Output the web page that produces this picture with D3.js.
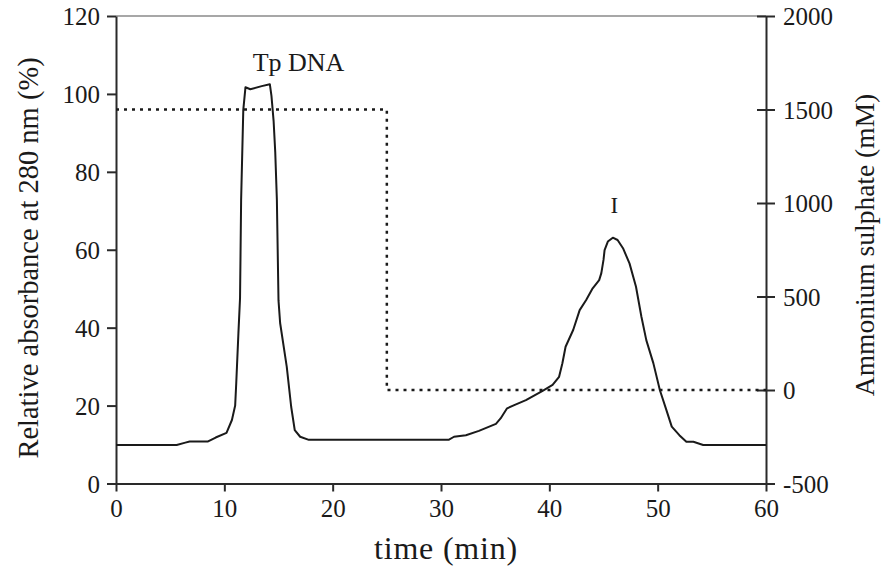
<!DOCTYPE html>
<html>
<head>
<meta charset="utf-8">
<script src="https://cdn.jsdelivr.net/npm/d3@7"></script>
<style>
  body { margin: 0; background: #fff; }
  svg text { font-family: "Liberation Serif", "Times New Roman", serif; fill: #1a1a1a; }
</style>
</head>
<body>
<div class="chart"></div>
<script>
var regionWidth = 887
var regionHeight = 568
var margin = { top: 16, right: 121, bottom: 84.5, left: 116 }
var plotWidth = regionWidth - margin.left - margin.right
var plotHeight = regionHeight - margin.top - margin.bottom

// absorbance trace (time in min, relative absorbance %)
var timeMin = [0, 5.6, 6.4, 6.8, 8.5, 9.2, 10.2, 10.7, 11.0, 11.1, 11.3, 11.45, 11.55, 11.75, 11.95,
    12.4, 13.45, 14.2, 14.35, 14.55, 14.7, 14.85, 15.0, 15.15, 15.76, 16.17, 16.5, 17.0, 17.8,
    30.7, 31.2, 32.3, 33.5, 35.07, 35.5, 36.1, 36.76, 37.84, 39.38, 40.3, 40.9, 41.2, 41.5, 42.2,
    42.8, 43.4, 44.0, 44.6, 44.8, 45.0, 45.1, 45.4, 45.86, 46.3, 46.8, 47.4, 48.0, 48.5, 48.95,
    49.6, 50.2, 50.8, 51.3, 52.0, 52.65, 53.3, 54.2, 60]
var absorbance = [9.9, 9.9, 10.5, 10.8, 10.8, 11.8, 13.0, 16.3, 20.0, 25.8, 38.6, 47.6, 72.8, 95.9, 101.7,
    101.2, 102.0, 102.5, 99.5, 93, 85, 72.8, 47, 41.2, 30, 19.7, 13.7, 12.0, 11.2,
    11.2, 12.0, 12.4, 13.5, 15.3, 16.7, 19.3, 20.1, 21.4, 23.8, 25.3, 27.4, 30.8, 35.1, 39.4,
    44.5, 47.1, 50.1, 52.2, 54.0, 57.4, 59.9, 62.1, 63.1, 62.5, 60.4, 56.5, 50.5, 42.8, 36.8,
    30.9, 24.0, 18.9, 14.6, 12.4, 10.7, 10.7, 9.9, 9.9]

// ammonium sulphate step gradient (mM)
var saltTime = [0, 25, 25, 60]
var saltConc = [1500, 1500, 0, 0]

var xTicks = [0, 10, 20, 30, 40, 50, 60]
var yLeftTicks = [0, 20, 40, 60, 80, 100, 120]
var yRightTicks = [-500, 0, 500, 1000, 1500, 2000]

var peakLabels = [
    { text: 'Tp DNA', t: 16.85, v: 106 },
    { text: 'I', t: 46.0, v: 69.4 }
]

var svg = d3.select('.chart').append('svg')
    .attr('width', regionWidth)
    .attr('height', regionHeight)

var g = svg.append('g')
    .attr('transform', 'translate(' + margin.left + ',' + margin.top + ')')

var scaleX = d3.scaleLinear().domain([0, 60]).range([0, plotWidth])
var scaleY = d3.scaleLinear().domain([0, 120]).range([plotHeight, 0])
var scaleY2 = d3.scaleLinear().domain([-500, 2000]).range([plotHeight, 0])

// top frame line
g.append('line')
    .attr('x1', 0).attr('x2', plotWidth)
    .attr('y1', 0).attr('y2', 0)
    .attr('stroke', '#8a8a8a')
    .attr('stroke-width', 1.5)

var axisColor = '#2a2a2a'

function styleAxis(sel) {
    sel.select('.domain').attr('stroke', axisColor).attr('stroke-width', 2)
    sel.selectAll('.tick line').attr('stroke', axisColor).attr('stroke-width', 2)
    sel.selectAll('.tick text')
        .attr('font-size', 25)
        .attr('fill', '#1a1a1a')
}

var xAxis = g.append('g')
    .attr('transform', 'translate(0,' + plotHeight + ')')
    .call(d3.axisBottom(scaleX).tickValues(xTicks).tickSize(8).tickSizeOuter(0).tickPadding(6))
styleAxis(xAxis)
xAxis.selectAll('.tick text').attr('dy', '0.78em')

var yAxis = g.append('g')
    .call(d3.axisLeft(scaleY).tickValues(yLeftTicks).tickSize(9).tickSizeOuter(0).tickPadding(7))
styleAxis(yAxis)
yAxis.selectAll('.tick text').attr('dy', '0.34em')

var y2Axis = g.append('g')
    .attr('transform', 'translate(' + plotWidth + ',0)')
    .call(d3.axisRight(scaleY2).tickValues(yRightTicks).tickFormat(d => String(d))
        .tickSize(9).tickSizeOuter(0).tickPadding(8))
styleAxis(y2Axis)
y2Axis.selectAll('.tick line').attr('x1', -9)
y2Axis.selectAll('.tick text').attr('dy', '0.34em')

// salt step (dotted)
var saltLine = d3.line()
    .x((d, i) => scaleX(saltTime[i]))
    .y(d => scaleY2(d))
g.append('path')
    .datum(saltConc)
    .attr('d', saltLine)
    .attr('fill', 'none')
    .attr('stroke', '#1a1a1a')
    .attr('stroke-width', 2.5)
    .attr('stroke-dasharray', '3,5')

// absorbance trace
var absLine = d3.line()
    .x((d, i) => scaleX(timeMin[i]))
    .y(d => scaleY(d))
g.append('path')
    .datum(absorbance)
    .attr('d', absLine)
    .attr('fill', 'none')
    .attr('stroke', '#1a1a1a')
    .attr('stroke-width', 2)
    .attr('stroke-linejoin', 'round')

// peak labels
g.selectAll('.peak')
    .data(peakLabels)
    .enter()
    .append('text')
    .attr('class', 'peak')
    .attr('x', d => scaleX(d.t))
    .attr('y', d => scaleY(d.v))
    .attr('text-anchor', 'middle')
    .attr('font-size', d => d.text == 'I' ? 23 : 26)
    .text(d => d.text)

// axis titles
svg.append('text')
    .attr('transform', 'translate(' + (margin.left + plotWidth / 2 + 5) + ',' + 559 + ')')
    .attr('text-anchor', 'middle')
    .attr('font-size', 32)
    .attr('letter-spacing', 0.8)
    .text('time (min)')

svg.append('text')
    .attr('transform', 'translate(38,' + 258 + ') rotate(-90)')
    .attr('text-anchor', 'middle')
    .attr('font-size', 28.5)
    .text('Relative absorbance at 280 nm (%)')

svg.append('text')
    .attr('transform', 'translate(874,' + 245 + ') rotate(-90)')
    .attr('text-anchor', 'middle')
    .attr('font-size', 27.5)
    .text('Ammonium sulphate (mM)')
</script>
</body>
</html>
